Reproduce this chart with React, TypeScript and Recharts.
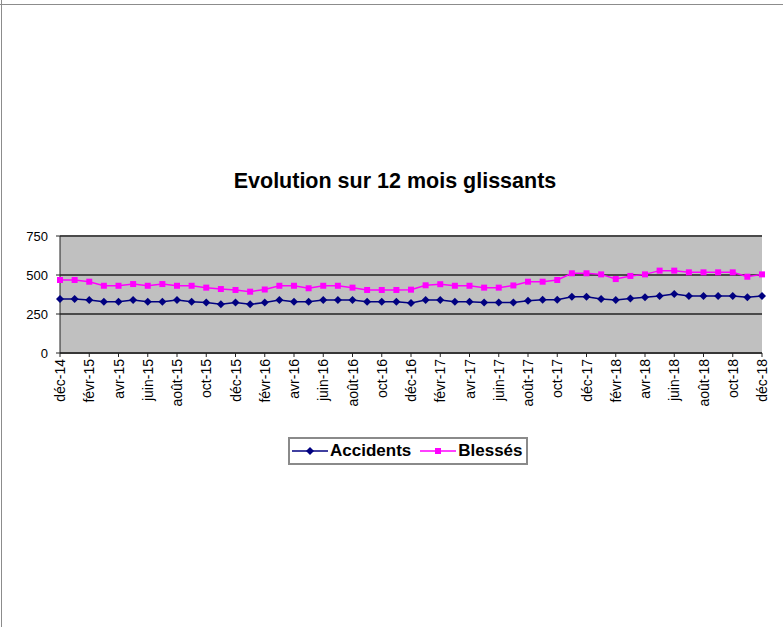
import React from "react";
import { LineChart, Line, XAxis, YAxis, CartesianGrid, Legend } from "recharts";

// monthly rolling 12-month totals, déc-14 .. déc-18
const monthNames = ["janv", "févr", "mars", "avr", "mai", "juin", "juil", "août", "sept", "oct", "nov", "déc"];
const months = Array.from({ length: 49 }, (_, i) => {
  const m = 11 + i;
  return monthNames[m % 12] + "-" + (14 + Math.floor(m / 12));
});

const accidents = [
  346, 346, 340, 329, 329, 340, 329, 329, 340, 329, 323, 312, 323, 312, 323, 340,
  329, 329, 340, 340, 340, 329, 329, 329, 320, 340, 340, 329, 329, 323, 323, 323,
  335, 342, 342, 360, 360, 346, 340, 350, 357, 365, 378, 365, 365, 365, 365, 357, 365,
];

const blesses = [
  468, 468, 457, 431, 431, 442, 431, 442, 431, 431, 419, 410, 404, 393, 407, 431,
  431, 415, 431, 431, 419, 404, 404, 404, 406, 434, 441, 431, 431, 419, 419, 433,
  457, 457, 468, 511, 511, 504, 474, 494, 504, 528, 528, 517, 517, 517, 517, 489, 504,
];

const yTicks = [0, 250, 500, 750];

const data = months.map((month, i) => ({
  month,
  accidents: accidents[i],
  blesses: blesses[i],
}));

const FONT = "'Liberation Sans', Arial, sans-serif";
const NAVY = "#000080";
const PINK = "#ff00ff";

const MonthTick = (props: any) => {
  const { x, y, payload } = props;
  return (
    <text
      x={x}
      y={y}
      transform={`rotate(-90, ${x}, ${y})`}
      textAnchor="end"
      dominantBaseline="central"
      fontSize={14}
      fontFamily={FONT}
      fill="#000"
    >
      {payload.value}
    </text>
  );
};

const diamond = (props: any) => {
  const { cx, cy, index } = props;
  return (
    <path
      key={"a" + index}
      d={`M${cx},${cy - 4} L${cx + 4},${cy} L${cx},${cy + 4} L${cx - 4},${cy} Z`}
      fill={NAVY}
    />
  );
};

const square = (props: any) => {
  const { cx, cy, index } = props;
  return <rect key={"b" + index} x={cx - 3} y={cy - 3} width={6} height={6} fill={PINK} />;
};

const LegendBox = () => (
  <div
    style={{
      boxSizing: "border-box",
      width: 240,
      height: 28,
      border: "2px solid #8a8a8a",
      background: "#fff",
      display: "flex",
      alignItems: "center",
      paddingLeft: 2,
      fontFamily: FONT,
      fontWeight: "bold",
      fontSize: 17,
      color: "#000",
      whiteSpace: "nowrap",
    }}
  >
    <svg width={36} height={12}>
      <line x1={0} y1={6} x2={36} y2={6} stroke={NAVY} strokeWidth={1.5} />
      <path d="M18,2 L22,6 L18,10 L14,6 Z" fill={NAVY} />
    </svg>
    <span style={{ marginLeft: 2 }}>Accidents</span>
    <svg width={36} height={12} style={{ marginLeft: 9 }}>
      <line x1={0} y1={6} x2={36} y2={6} stroke={PINK} strokeWidth={1.5} />
      <rect x={15} y={3} width={6} height={6} fill={PINK} />
    </svg>
    <span style={{ marginLeft: 2 }}>Blessés</span>
  </div>
);

export default function App() {
  return (
    <div
      style={{
        position: "fixed",
        left: 0,
        top: 0,
        width: 783,
        height: 627,
        background: "#fff",
        overflow: "hidden",
      }}
    >
      <div style={{ position: "absolute", left: 0, top: 4, width: 783, height: 1, background: "#8c8c8c" }} />
      <div style={{ position: "absolute", left: 1, top: 0, width: 1, height: 627, background: "#8c8c8c" }} />
      <div
        style={{
          position: "absolute",
          left: 0,
          top: 169,
          width: 790,
          textAlign: "center",
          fontFamily: FONT,
          fontWeight: "bold",
          fontSize: 21.5,
          lineHeight: "24px",
          color: "#000",
        }}
      >
        Evolution sur 12 mois glissants
      </div>
      <LineChart
        width={783}
        height={627}
        data={data}
        margin={{ top: 236, right: 21, left: 20, bottom: 214 }}
      >
        <CartesianGrid vertical={false} fill="#c0c0c0" stroke="#4a4a4a" strokeWidth={2} />
        <XAxis
          dataKey="month"
          interval={1}
          height={60}
          tick={<MonthTick />}
          tickSize={4}
          tickMargin={2}
          stroke="#222"
        />
        <YAxis
          width={40}
          domain={[0, 750]}
          ticks={yTicks}
          tickSize={4}
          tickMargin={8}
          stroke="#222"
          tick={{ fontSize: 13, fontFamily: FONT, fill: "#000" }}
        />
        <Legend
          layout="horizontal"
          verticalAlign="middle"
          align="center"
          wrapperStyle={{ top: 437, left: 288, width: 240, height: 28 }}
          content={<LegendBox />}
        />
        <Line
          dataKey="accidents"
          name="Accidents"
          stroke={NAVY}
          strokeWidth={1.5}
          dot={diamond}
          isAnimationActive={false}
        />
        <Line
          dataKey="blesses"
          name="Blessés"
          stroke={PINK}
          strokeWidth={1.5}
          dot={square}
          isAnimationActive={false}
        />
      </LineChart>
    </div>
  );
}
